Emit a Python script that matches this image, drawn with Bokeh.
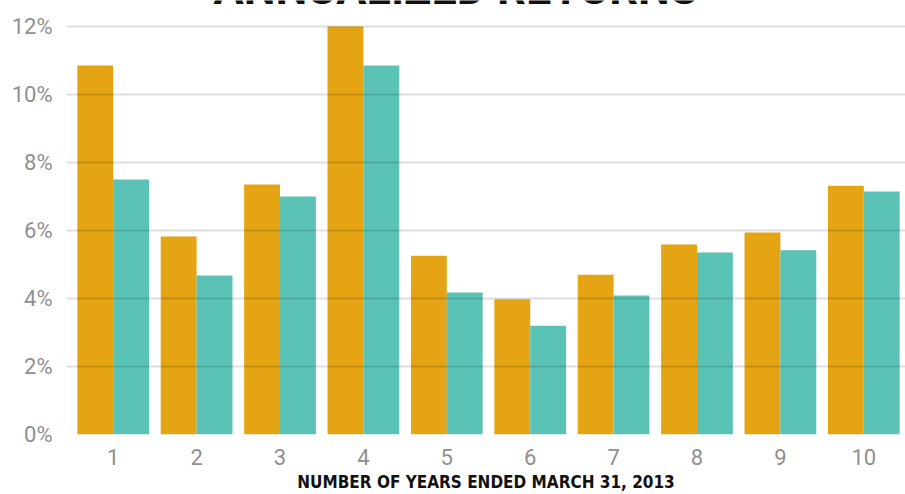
from bokeh.plotting import figure
from bokeh.models import Range1d, FixedTicker, PrintfTickFormatter, Label, ColumnDataSource
from bokeh.embed import file_html
from bokeh.resources import INLINE

years = [1, 2, 3, 4, 5, 6, 7, 8, 9, 10]
year_labels = ["1", "2", "3", "4", "5", "6", "7", "8", "9", "10"]
series_a = [10.85, 5.82, 7.35, 12.0, 5.26, 3.98, 4.70, 5.59, 5.94, 7.32]
series_b = [7.50, 4.68, 7.00, 10.85, 4.18, 3.20, 4.09, 5.35, 5.42, 7.15]
y_ticks = [0, 2, 4, 6, 8, 10, 12]
title_text = "ANNUALIZED RETURNS"
x_title = "NUMBER OF YEARS ENDED MARCH 31, 2013"

ORANGE = "#E4A413"
TEAL = "#5AC3B6"
BW = 0.43

src = ColumnDataSource(dict(
    xa=[y - BW / 2 for y in years],
    xb=[y + BW / 2 for y in years],
    a=series_a,
    b=series_b,
))

# frame reaches the top of the canvas so the (cut-off) title can be shown
p = figure(width=905, height=494, output_backend="svg", toolbar_location=None,
           x_range=Range1d(0.44, 10.5), y_range=Range1d(0, 12.765),
           min_border_left=66, min_border_right=0, min_border_top=0, min_border_bottom=60)
p.outline_line_color = None
p.background_fill_color = "white"
p.border_fill_color = "white"

p.vbar(x="xa", top="a", width=BW, bottom=0, source=src, fill_color=ORANGE, line_color=None)
p.vbar(x="xb", top="b", width=BW, bottom=0, source=src, fill_color=TEAL, line_color=None)

# grids drawn on top of bars
p.xgrid.visible = False
p.ygrid.ticker = FixedTicker(ticks=y_ticks)
p.ygrid.grid_line_color = "black"
p.ygrid.grid_line_alpha = 0.13
p.ygrid.grid_line_width = 2
p.ygrid.level = "overlay"

p.yaxis.ticker = FixedTicker(ticks=y_ticks)
p.yaxis.formatter = PrintfTickFormatter(format="%d%%")
p.xaxis.ticker = FixedTicker(ticks=years)
p.xaxis.major_label_overrides = {y: l for y, l in zip(years, year_labels)}

for ax in (p.xaxis[0], p.yaxis[0]):
    ax.axis_line_color = None
    ax.major_tick_line_color = None
    ax.minor_tick_line_color = None
    ax.major_label_text_color = "#8f8f8f"
    ax.major_label_text_font = "Roboto"
    ax.major_label_text_font_size = "22px"
p.yaxis.major_label_standoff = 8
p.xaxis.major_label_standoff = 8

p.xaxis.axis_label = x_title
p.xaxis.axis_label_text_font = "DejaVu Sans Condensed, Roboto"
p.xaxis.axis_label_text_font_style = "bold"
p.xaxis.axis_label_text_font_size = "17px"
p.xaxis.axis_label_text_color = "#111111"
p.xaxis.axis_label_standoff = 4

p.add_layout(Label(x=5.104, y=13.12, text=title_text,
                   text_font="Roboto", text_font_style="bold", text_font_size="45px",
                   text_color="#111111", text_align="center", text_baseline="alphabetic"))

open("out.html", "w").write(file_html(p, INLINE))
